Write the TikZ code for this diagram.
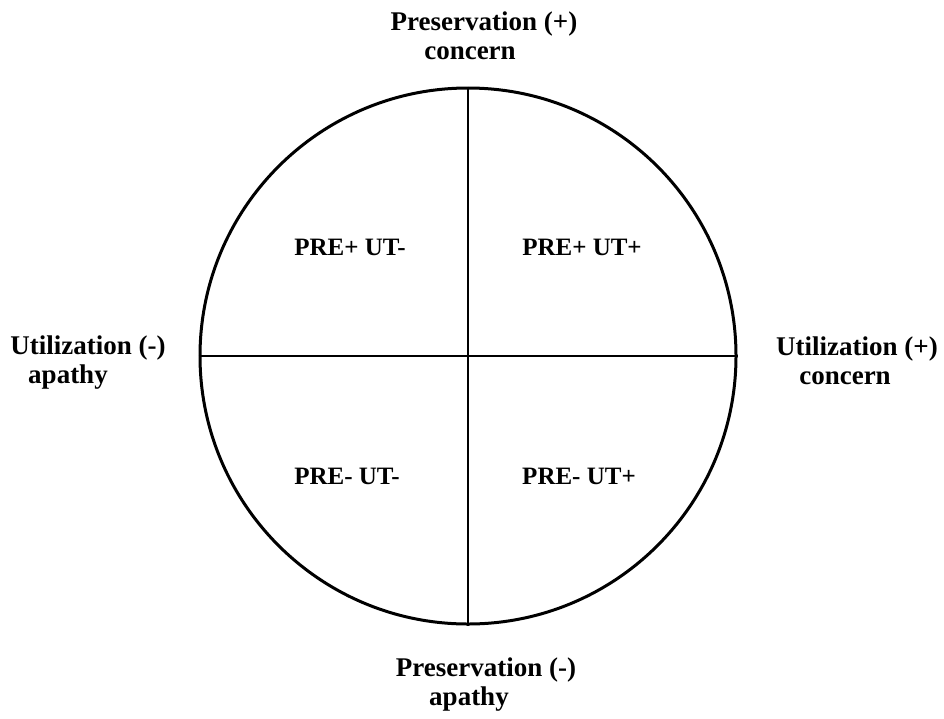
\documentclass[tikz,border=0pt]{standalone}
\usepackage{fontspec}
\setmainfont{Liberation Serif}
\begin{document}
\begin{tikzpicture}[x=1pt,y=-1pt,
  axislabel/.style={font=\fontsize{27}{29}\selectfont\bfseries, anchor=base, inner sep=0pt},
  quadlabel/.style={font=\fontsize{25}{27}\selectfont\bfseries, anchor=base, inner sep=0pt},
  rim/.style={draw, circle, line width=3pt, minimum size=536pt, inner sep=0pt}]
\useasboundingbox (0,0) rectangle (944,718);
\node[rim] (c) at (468,356) {};
\draw[line width=2.6pt] (c.north) -- (c.south);
\draw[line width=2.6pt] (c.west) -- (c.east);
% axis labels
\node[axislabel] (t1) at (484,30) {Preservation (+)};
\node[axislabel] (t2) at (470,59) {concern};
\node[axislabel] (b1) at (486,676) {Preservation (-)};
\node[axislabel] (b2) at (469,705) {apathy};
\node[axislabel] (l1) at (88,354) {Utilization (-)};
\node[axislabel] (l2) at (68,383) {apathy};
\node[axislabel] (r1) at (857,355) {Utilization (+)};
\node[axislabel] (r2) at (845,384) {concern};
% quadrant labels
\node[quadlabel] (q1) at (350,255) {PRE+ UT-};
\node[quadlabel] (q2) at (582,255) {PRE+ UT+};
\node[quadlabel] (q3) at (347,484) {PRE- UT-};
\node[quadlabel] (q4) at (579,484) {PRE- UT+};
\end{tikzpicture}
\end{document}
